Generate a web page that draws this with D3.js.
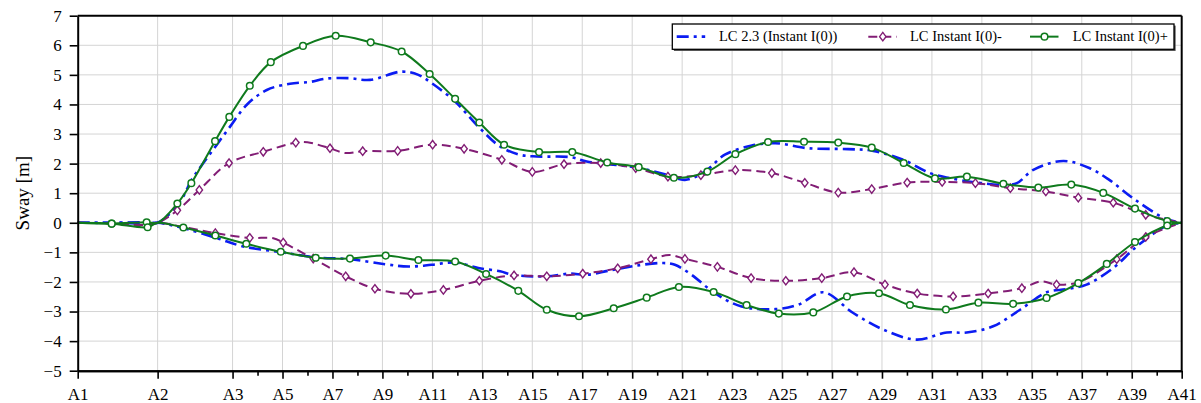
<!DOCTYPE html>
<html>
<head>
<meta charset="utf-8">
<script src="https://cdn.jsdelivr.net/npm/d3@7"></script>
<style>
  body { margin: 0; background: #fff; }
  svg { display: block; font-family: "Liberation Serif", "Times New Roman", serif; }
</style>
</head>
<body>
<svg id="chart" width="1201" height="403"></svg>
<script>
// Station labels along the track and their positions (station units)
const tickLabels = ["A1","A2","A3","A5","A7","A9","A11","A13","A15","A17","A19","A21","A23","A25","A27","A29","A31","A33","A35","A37","A39","A41"];
const tickPositions = [-3.2,0,3,5,7,9,11,13,15,17,19,21,23,25,27,29,31,33,35,37,39,41];
const minorPositions = [4,6,8,10,12,14,16,18,20,22,24,26,28,30,32,34,36,38,40];
const yTicks = [-5,-4,-3,-2,-1,0,1,2,3,4,5,6,7];

// Sway curves: [position, sway (m), marker flag]
const lc23Upper = [[-3.2,0],[-1.84,0],[-0.44,0.02],[0,0],[0.90,0.72],[1.36,1.45],[1.83,2.02],[2.37,2.64],[2.90,3.25],[3.57,3.99],[4.37,4.49],[5.30,4.70],[6.10,4.76],[6.70,4.87],[7.63,4.89],[8.50,4.83],[9.77,5.11],[10.44,5.00],[10.97,4.72],[11.91,4.10],[12.84,3.25],[13.71,2.58],[14.50,2.30],[15.18,2.24],[16.51,2.22],[17.18,2.07],[17.98,1.99],[19.31,1.85],[20.38,1.62],[21.11,1.45],[21.91,1.73],[22.71,2.30],[23.79,2.61],[24.72,2.69],[26.05,2.52],[27.65,2.49],[28.65,2.43],[29.85,2.13],[30.92,1.68],[31.72,1.51],[32.79,1.36],[33.86,1.28],[34.40,1.34],[35.06,1.79],[36.26,2.09],[37.30,1.85],[38.10,1.45],[39.10,0.80],[40.35,0.14],[41,0]];
const lc23Lower = [[-3.2,0],[-1.84,0],[-0.44,-0.02],[0,0],[1.03,-0.18],[2.37,-0.52],[3.43,-0.80],[4.93,-0.99],[6.33,-1.17],[7.70,-1.23],[9.10,-1.40],[10.04,-1.48],[10.97,-1.42],[11.91,-1.34],[12.84,-1.53],[13.71,-1.64],[14.24,-1.76],[15.58,-1.81],[16.51,-1.72],[17.18,-1.76],[18.11,-1.61],[19.31,-1.43],[20.25,-1.36],[20.71,-1.42],[21.38,-1.76],[22.31,-2.38],[23.38,-2.83],[24.72,-2.92],[25.65,-2.77],[26.65,-2.35],[27.85,-3.05],[29.05,-3.61],[30.39,-3.95],[31.59,-3.71],[32.39,-3.71],[33.45,-3.50],[34.53,-2.94],[35.59,-2.35],[36.39,-2.24],[37.19,-2.09],[38.26,-1.53],[39.20,-0.80],[40.40,-0.10],[41,0]];

const minusUpper = [[-3.2,0],[-1.84,-0.02],[-0.44,-0.07],[0,0],[0.79,0.42,1],[1.67,1.11,1],[2.86,2.02,1],[4.23,2.40,1],[5.53,2.71,1],[6.00,2.72],[6.90,2.52,1],[7.50,2.36],[8.21,2.42,1],[9.61,2.43,1],[11.01,2.64,1],[12.27,2.50,1],[13.78,2.13,1],[15.00,1.72,1],[16.27,1.98,1],[17.74,2.02,1],[19.14,1.85,1],[20.43,1.56,1],[21.75,1.61,1],[23.13,1.78,1],[24.59,1.68,1],[25.91,1.35,1],[27.25,1.02,1],[28.59,1.14,1],[30.01,1.36,1],[31.41,1.38,1],[32.74,1.34,1],[34.14,1.17,1],[35.56,1.06,1],[36.86,0.85,1],[38.26,0.68,1],[39.56,0.27,1],[41,0]];
const minusLower = [[-3.2,0],[-1.84,-0.02],[-0.44,-0.07],[0,0],[1.03,-0.14],[2.31,-0.35,1],[3.69,-0.51,1],[4.63,-0.52],[5.03,-0.67,1],[6.23,-1.21,1],[7.53,-1.81,1],[8.70,-2.23,1],[10.14,-2.40,1],[11.44,-2.27,1],[12.88,-1.96,1],[14.27,-1.78,1],[15.58,-1.81,1],[17.02,-1.72,1],[18.42,-1.54,1],[19.75,-1.23,1],[20.50,-1.09],[21.11,-1.22,1],[22.41,-1.49,1],[23.76,-1.87,1],[25.15,-1.96,1],[26.59,-1.87,1],[27.88,-1.67,1],[29.12,-2.09,1],[30.41,-2.39,1],[31.85,-2.49,1],[33.25,-2.39,1],[34.60,-2.21,1],[35.39,-1.98],[35.99,-2.09,1],[36.90,-2.00],[38.40,-1.23,1],[39.56,-0.48,1],[41,0]];

const plusUpper = [[-3.2,0],[-1.84,-0.03,1],[-0.44,0.02,1],[0,0],[0.79,0.65,1],[1.35,1.34,1],[2.30,2.76,1],[2.87,3.58,1],[3.69,4.63,1],[4.53,5.43,1],[5.82,5.98,1],[7.13,6.32,1],[8.53,6.10,1],[9.77,5.79,1],[10.89,5.03,1],[11.91,4.19,1],[12.88,3.39,1],[13.87,2.64,1],[15.27,2.39,1],[16.60,2.39,1],[18.00,2.04,1],[19.26,1.88,1],[20.67,1.52,1],[22.01,1.73,1],[23.13,2.32,1],[24.44,2.73,1],[25.88,2.74,1],[27.25,2.71,1],[28.59,2.54,1],[29.87,2.02,1],[31.12,1.50,1],[32.40,1.56,1],[33.86,1.32,1],[35.26,1.19,1],[36.58,1.29,1],[37.86,1.01,1],[39.13,0.48,1],[40.42,0.06,1],[41,0]];
const plusLower = [[-3.2,0],[-1.84,-0.03,1],[-0.40,-0.15,1],[0,0],[1.03,-0.16,1],[2.31,-0.43,1],[3.55,-0.71,1],[4.93,-0.98,1],[6.33,-1.18,1],[7.70,-1.21,1],[9.13,-1.11,1],[10.44,-1.26,1],[11.91,-1.31,1],[13.15,-1.73,1],[14.44,-2.30,1],[15.58,-2.94,1],[16.87,-3.16,1],[18.26,-2.89,1],[19.58,-2.53,1],[20.87,-2.17,1],[22.26,-2.34,1],[23.58,-2.78,1],[24.87,-3.07,1],[26.25,-3.03,1],[27.60,-2.49,1],[28.88,-2.38,1],[30.12,-2.78,1],[31.56,-2.93,1],[32.86,-2.70,1],[34.25,-2.74,1],[35.59,-2.54,1],[36.86,-2.04,1],[38.00,-1.39,1],[39.13,-0.65,1],[40.42,-0.09,1],[41,0]];

const seriesNames = ["LC 2.3 (Instant I(0))", "LC Instant I(0)-", "LC Instant I(0)+"];

// Styles for each series
const styles = [
  { color: "#0b1cf2", width: 2.6, dash: "12,5,3,5", marker: null },
  { color: "#821d75", width: 2.0, dash: "9,5", marker: "diamond" },
  { color: "#0f7a1d", width: 2.0, dash: null, marker: "circle" }
];
const seriesData = [[lc23Upper, lc23Lower], [minusUpper, minusLower], [plusUpper, plusLower]];

const svg = d3.select("#chart");
const plot = { left: 77.7, right: 1181.7, top: 15.7, bottom: 370.7 };

const x = d3.scaleLinear().domain([-3.2, 41]).range([plot.left, plot.right]);
const y = d3.scaleLinear().domain([-5, 7]).range([plot.bottom, plot.top]);

// Grid
const grid = svg.append("g").attr("stroke", "#d4d4d4").attr("stroke-width", 1);
grid.selectAll("line.h").data(yTicks.filter(d => d > -5 && d < 7)).join("line")
  .attr("x1", plot.left).attr("x2", plot.right)
  .attr("y1", d => y(d)).attr("y2", d => y(d));
grid.selectAll("line.v").data(tickPositions.slice(1, -1)).join("line")
  .attr("y1", plot.top).attr("y2", plot.bottom)
  .attr("x1", d => x(d)).attr("x2", d => x(d));

// Curves
const line = d3.line()
  .x(d => x(d[0])).y(d => y(d[1]))
  .curve(d3.curveCatmullRom.alpha(0.5));

const diamondPath = "M0,-4.2L3.2,0L0,4.2L-3.2,0Z";

function drawMarker(g, type, color) {
  if (type === "circle") {
    g.append("circle").attr("r", 3.3).attr("fill", "#fff").attr("stroke", color).attr("stroke-width", 1.5);
  } else if (type === "diamond") {
    g.append("path").attr("d", diamondPath).attr("fill", "#fff").attr("stroke", color).attr("stroke-width", 1.4);
  }
}

const curves = svg.append("g");
seriesData.forEach((pair, i) => {
  const st = styles[i];
  const g = curves.append("g");
  pair.forEach(data => {
    g.append("path").datum(data)
      .attr("d", line)
      .attr("fill", "none")
      .attr("stroke", st.color)
      .attr("stroke-width", st.width)
      .attr("stroke-dasharray", st.dash)
      .attr("stroke-linejoin", "round");
  });
  if (st.marker) {
    pair.forEach(data => {
      data.filter(d => d[2]).forEach(d => {
        const m = g.append("g").attr("transform", `translate(${x(d[0])},${y(d[1])})`);
        drawMarker(m, st.marker, st.color);
      });
    });
  }
});

// Axes
const xAxis = d3.axisBottom(x).tickValues(tickPositions)
  .tickFormat((d, i) => tickLabels[i]).tickSize(8).tickSizeOuter(0).tickPadding(9);
const xMinor = d3.axisBottom(x).tickValues(minorPositions)
  .tickFormat("").tickSize(5).tickSizeOuter(0);
const yAxis = d3.axisLeft(y).tickValues(yTicks)
  .tickFormat(d3.format("d")).tickSize(8).tickSizeOuter(0).tickPadding(8);

function styleAxis(g) {
  g.select(".domain").attr("stroke", "#000").attr("stroke-width", 2);
  g.selectAll(".tick line").attr("stroke", "#000").attr("stroke-width", 1.6);
  g.selectAll(".tick text").attr("fill", "#000")
    .style("font-family", '"Liberation Serif", "Times New Roman", serif')
    .style("font-size", "17px");
}

svg.append("g").attr("transform", `translate(0,${plot.bottom})`).call(xMinor).call(styleAxis);
svg.append("g").attr("transform", `translate(0,${plot.bottom})`).call(xAxis).call(styleAxis);
svg.append("g").attr("transform", `translate(${plot.left},0)`).call(yAxis).call(styleAxis);

// Top and right frame
svg.append("line").attr("x1", plot.left).attr("x2", plot.right).attr("y1", plot.top).attr("y2", plot.top)
  .attr("stroke", "#000").attr("stroke-width", 2);
svg.append("line").attr("x1", plot.right).attr("x2", plot.right).attr("y1", plot.top).attr("y2", plot.bottom)
  .attr("stroke", "#000").attr("stroke-width", 2);

// Y axis title
svg.append("text")
  .attr("transform", `translate(29,${(plot.top + plot.bottom) / 2}) rotate(-90)`)
  .attr("text-anchor", "middle")
  .style("font-size", "19px")
  .text("Sway [m]");

// Legend
const legend = { x: 672.3, y: 24, w: 501.7, h: 25.3 };
const legendItems = [
  { sample: 676.7, text: 719 },
  { sample: 868.3, text: 910 },
  { sample: 1030, text: 1072.7 }
];
const lg = svg.append("g");
lg.append("rect").attr("x", legend.x + 1.6).attr("y", legend.y + 1.6).attr("width", legend.w).attr("height", legend.h)
  .attr("fill", "#444");
lg.append("rect").attr("x", legend.x).attr("y", legend.y).attr("width", legend.w).attr("height", legend.h)
  .attr("fill", "#fff").attr("stroke", "#000").attr("stroke-width", 1.3);
const ly = legend.y + legend.h / 2;
seriesNames.forEach((name, i) => {
  const st = styles[i];
  const it = legendItems[i];
  lg.append("line").attr("x1", it.sample).attr("x2", it.sample + 28.5).attr("y1", ly).attr("y2", ly)
    .attr("stroke", st.color).attr("stroke-width", st.width).attr("stroke-dasharray", st.dash);
  if (st.marker) {
    const m = lg.append("g").attr("transform", `translate(${it.sample + 14.5},${ly})`);
    drawMarker(m, st.marker, st.color);
  }
  lg.append("text").attr("x", it.text).attr("y", ly).attr("dy", "0.33em")
    .style("font-size", "14.5px").text(name);
});
</script>
</body>
</html>
